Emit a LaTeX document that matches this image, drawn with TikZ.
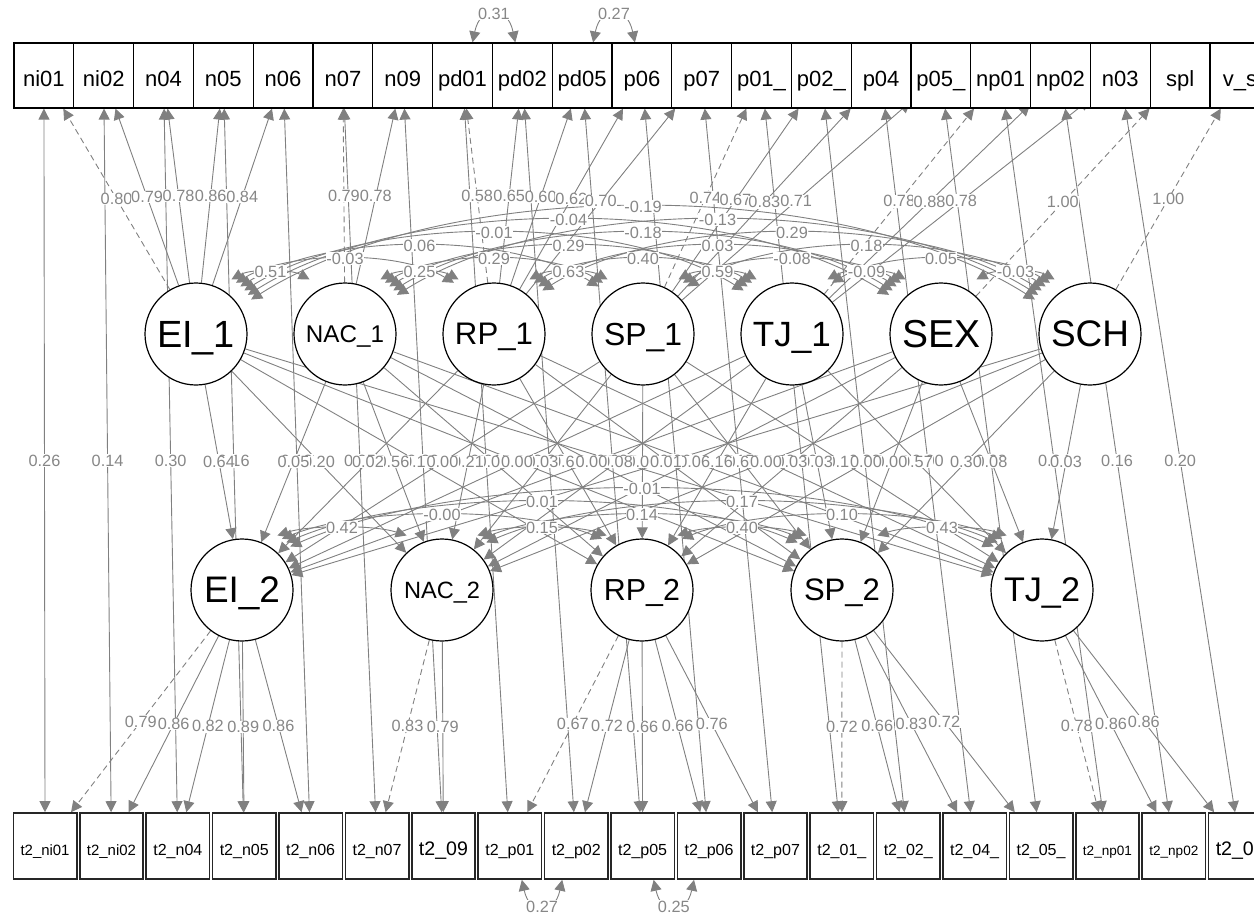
\documentclass[tikz,border=0pt]{standalone}
\usepackage{fontspec}
\usepackage{graphicx}
\setmainfont{Liberation Sans}
\usetikzlibrary{arrows.meta,calc}
\definecolor{edgegray}{RGB}{128,128,128}
\definecolor{labgray}{RGB}{135,135,135}
\pgfdeclarelayer{edgelayer}
\pgfdeclarelayer{labellayer}
\pgfsetlayers{edgelayer,labellayer,main}
\tikzset{
  topbox/.style={draw=black, line width=1.2pt, fill=white, minimum width=59.8pt, minimum height=65pt, inner sep=0pt, text height=22pt, text depth=0pt, font=\fontsize{22}{25}\selectfont},
  botbox/.style={draw=black!85, line width=1.6pt, fill=white, minimum width=63.5pt, minimum height=66pt, inner sep=0pt, text height=19pt, text depth=0pt},
  lat/.style={draw=black, line width=1.2pt, fill=white, circle, minimum size=102pt, inner sep=0pt, text depth=0pt},
  lnk/.style={draw=edgegray, line width=0.9pt, -{Triangle[length=11pt,width=11pt]}},
  cov/.style={draw=edgegray, line width=0.9pt, {Triangle[length=11pt,width=11pt]}-{Triangle[length=11pt,width=11pt]}},
  fixd/.style={dash pattern=on 6pt off 4pt},
  elab/.style={fill=white, text=labgray, inner sep=0.6pt, font=\fontsize{16.3}{18}\selectfont},
}
% straight one-headed edge with label
\newcommand\sedge[4]{%
  \begin{pgfonlayer}{edgelayer}\draw[lnk,#4] (#1) -- (#2);\end{pgfonlayer}%
  \begin{pgfonlayer}{labellayer}\path (#1) -- (#2) node[midway,elab] {#3};\end{pgfonlayer}}
% straight two-headed edge with label
\newcommand\scov[3]{%
  \begin{pgfonlayer}{edgelayer}\draw[cov] (#1) -- (#2);\end{pgfonlayer}%
  \begin{pgfonlayer}{labellayer}\path (#1) -- (#2) node[midway,elab] {#3};\end{pgfonlayer}}
% curved covariance between latents of one row
\newcommand\arccov[4]{%
  \pgfmathsetmacro\anga{62-5*#3}%
  \pgfmathsetmacro\angb{180-\anga}%
  \pgfmathsetmacro\dd{4*(49.5+13*#3-65*sin(\anga))/3}%
  \coordinate (ca) at ($(#1)+(\anga:65pt)$);%
  \coordinate (cb) at ($(#2)+(\angb:65pt)$);%
  \begin{pgfonlayer}{edgelayer}\draw[cov] (ca) .. controls ($(ca)!0.25!(cb)+(0,-\dd)$) and ($(ca)!0.75!(cb)+(0,-\dd)$) .. (cb);\end{pgfonlayer}%
  \begin{pgfonlayer}{labellayer}\path (ca) .. controls ($(ca)!0.25!(cb)+(0,-\dd)$) and ($(ca)!0.75!(cb)+(0,-\dd)$) .. (cb) node[pos=0.5,elab] {#4};\end{pgfonlayer}}
\begin{document}
\begin{tikzpicture}[x=1pt,y=-1pt]
\useasboundingbox (0,0) rectangle (1254,918);
\clip (0,0) rectangle (1254,918);
% ---------- nodes ----------
\foreach \lab [count=\i] in {ni01,ni02,n04,n05,n06,n07,n09,pd01,pd02,pd05,p06,p07,p01\_,p02\_,p04,p05\_,np01,np02,n03,spl,v\_s}
  \node[topbox] (T\i) at ({14+59.8*(\i-0.5)},75.5) {\lab};
\foreach \lab [count=\i] in {t2\_ni01,t2\_ni02,t2\_n04,t2\_n05,t2\_n06,t2\_n07,t2\_09,t2\_p01,t2\_p02,t2\_p05,t2\_p06,t2\_p07,t2\_01\_,t2\_02\_,t2\_04\_,t2\_05\_,t2\_np01,t2\_np02,t2\_03}
  \node[botbox] (B\i) at ({45.05+66.4*(\i-1)},846) {\resizebox{49pt}{!}{\lab}};
\foreach \lab [count=\i] in {EI\_1,NAC\_1,RP\_1,SP\_1,TJ\_1,SEX,SCH}
  \node[lat] (L\i) at ({196+149*(\i-1)},334) {\resizebox{78pt}{!}{\lab}};
\foreach \lab [count=\i] in {EI\_2,NAC\_2,RP\_2,SP\_2,TJ\_2}
  \node[lat] (M\i) at ({242+200*(\i-1)},590) {\resizebox{76pt}{!}{\lab}};
% ---------- residual covariances T1-T2 ----------
\foreach \i/\v in {1/0.26,2/0.14,3/0.30,4/0.16,5/0.13,6/0.05,7/0.22,8/0.01,9/0.26,10/0.08,
  11/0.06,12/0.15,13/0.39,14/0.33,15/0.00,16/0.08,17/0.24,18/0.16,19/0.20}
  {\scov{T\i}{B\i}{\v}}
% ---------- loadings ----------
\foreach \a/\b/\v in {L1/T1/0.80,L2/T6/0.79,L3/T8/0.58,L4/T13/0.74,L5/T17/0.78,L6/T20/1.00,L7/T21/1.00,
  M1/B1/0.79,M2/B6/0.83,M3/B8/0.67,M4/B13/0.72,M5/B17/0.78}
  {\sedge{\a}{\b}{\v}{fixd}}
\foreach \a/\b/\v in {L1/T2/0.79,L1/T3/0.78,L1/T4/0.86,L1/T5/0.84,L2/T7/0.78,
  L3/T9/0.65,L3/T10/0.60,L3/T11/0.62,L3/T12/0.70,L4/T14/0.67,L4/T15/0.83,L4/T16/0.71,
  L5/T18/0.88,L5/T19/0.78,
  M1/B2/0.86,M1/B3/0.82,M1/B4/0.89,M1/B5/0.86,M2/B7/0.79,
  M3/B9/0.72,M3/B10/0.66,M3/B11/0.66,M3/B12/0.76,M4/B14/0.66,M4/B15/0.83,M4/B16/0.72,
  M5/B18/0.86,M5/B19/0.86}
  {\sedge{\a}{\b}{\v}{}}
% ---------- regressions ----------
\foreach \a/\b/\v in {L1/M1/0.64,L1/M2/0.20,L1/M3/0.10,L1/M4/0.01,L1/M5/-0.05,
  L2/M1/0.05,L2/M2/0.56,L2/M3/0.02,L2/M4/0.00,L2/M5/0.06,
  L3/M1/0.02,L3/M2/0.21,L3/M3/0.68,L3/M4/0.00,L3/M5/0.05,
  L4/M1/0.00,L4/M2/0.03,L4/M3/0.00,L4/M4/0.60,L4/M5/0.18,
  L5/M1/0.00,L5/M2/0.08,L5/M3/0.16,L5/M4/0.03,L5/M5/0.57,
  L6/M1/0.00,L6/M2/-0.06,L6/M3/0.03,L6/M4/0.00,L6/M5/0.08,
  L7/M1/0.01,L7/M2/0.00,L7/M3/0.00,L7/M4/0.30,L7/M5/0.03}
  {\sedge{\a}{\b}{\v}{}}
% ---------- latent covariances ----------
\foreach \i/\j/\s/\v in {1/2/1/0.51,2/3/1/0.25,3/4/1/0.63,4/5/1/0.59,5/6/1/-0.09,6/7/1/-0.03,
  1/3/2/-0.03,2/4/2/0.29,3/5/2/0.40,4/6/2/-0.08,5/7/2/0.05,
  1/4/3/0.06,2/5/3/0.29,3/6/3/0.03,4/7/3/0.18,
  1/5/4/-0.01,2/6/4/-0.18,3/7/4/0.29,
  1/6/5/-0.04,2/7/5/-0.13,
  1/7/6/-0.19}
  {\arccov{L\i}{L\j}{\s}{\v}}
\foreach \i/\j/\s/\v in {1/2/1/0.42,2/3/1/0.15,3/4/1/0.40,4/5/1/0.43,
  1/3/2/-0.00,2/4/2/0.14,3/5/2/0.10,
  1/4/3/0.01,2/5/3/0.17,
  1/5/4/-0.01}
  {\arccov{M\i}{M\j}{\s}{\v}}
% ---------- indicator covariances ----------
\coordinate (pa) at ($(T8.north)+(10,0)$);
\coordinate (pb) at ($(T9.north)+(-7,0)$);
\coordinate (pc) at ($(T10.north)+(11,0)$);
\coordinate (pd) at ($(T11.north)+(-7,0)$);
\coordinate (qa) at ($(B8.south)+(12,0)$);
\coordinate (qb) at ($(B9.south)+(-14,0)$);
\coordinate (qc) at ($(B10.south)+(11,0)$);
\coordinate (qd) at ($(B11.south)+(-15,0)$);
\begin{pgfonlayer}{edgelayer}
\draw[cov] (pa) .. controls ($(pa)+(8,-38)$) and ($(pb)+(-8,-38)$) .. (pb);
\draw[cov] (pc) .. controls ($(pc)+(8,-38)$) and ($(pd)+(-8,-38)$) .. (pd);
\draw[cov] (qa) .. controls ($(qa)+(8,36)$) and ($(qb)+(-8,36)$) .. (qb);
\draw[cov] (qc) .. controls ($(qc)+(8,36)$) and ($(qd)+(-8,36)$) .. (qd);
\end{pgfonlayer}
\begin{pgfonlayer}{labellayer}
\path (pa) .. controls ($(pa)+(8,-38)$) and ($(pb)+(-8,-38)$) .. (pb) node[pos=0.5,elab] {0.31};
\path (pc) .. controls ($(pc)+(8,-38)$) and ($(pd)+(-8,-38)$) .. (pd) node[pos=0.5,elab] {0.27};
\path (qa) .. controls ($(qa)+(8,36)$) and ($(qb)+(-8,36)$) .. (qb) node[pos=0.5,elab] {0.27};
\path (qc) .. controls ($(qc)+(8,36)$) and ($(qd)+(-8,36)$) .. (qd) node[pos=0.5,elab] {0.25};
\end{pgfonlayer}
\end{tikzpicture}
\end{document}
